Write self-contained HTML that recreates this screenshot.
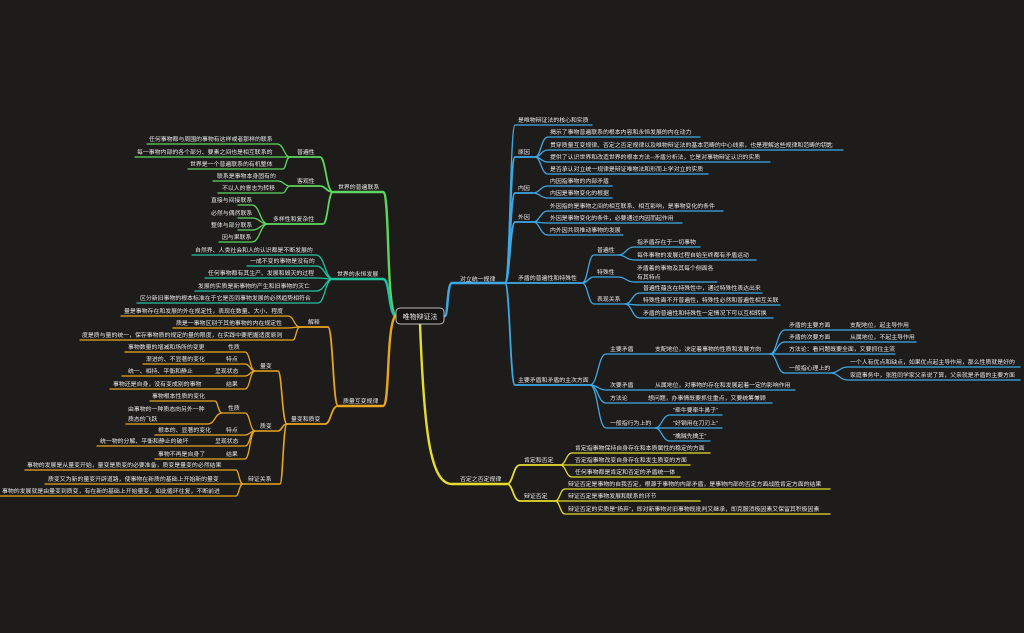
<!DOCTYPE html>
<html><head><meta charset="utf-8">
<style>
html,body{margin:0;padding:0;background:#1e1c1b;}
svg{display:block;}
text{font-family:"Liberation Sans","Noto Sans CJK SC",sans-serif;font-size:5.9px;fill:#e6e6e6;}
path{fill:none;stroke-linecap:round;}
</style></head><body>
<svg width="1024" height="633" viewBox="0 0 1024 633" xmlns="http://www.w3.org/2000/svg">
<rect width="1024" height="633" fill="#1e1c1b"/>

<!-- BLUE -->
<g stroke="#3ea8e6" stroke-width="1.3">
<path stroke-width="2.4" d="M445 316 C448 316 447 283 452 283 H505"/>
<path d="M505 283 C510 283 510 125 515 125 H592"/>
<path stroke-width="1.8" d="M505 283 C510 283 510 157 515 157 H535"/>
<path d="M535 157 C541 157 541 137 548 137 H700"/>
<path d="M535 157 C541 157 541 150 548 150 H843"/>
<path d="M535 157 C541 157 541 162 548 162 H770"/>
<path d="M535 157 C541 157 541 174 548 174 H708"/>
<path stroke-width="1.8" d="M505 283 C510 283 510 193 515 193 H533"/>
<path d="M533 193 C540 193 540 186 548 186 H612"/>
<path d="M533 193 C540 193 540 198 548 198 H612"/>
<path stroke-width="1.8" d="M505 283 C510 283 510 222 515 222 H533"/>
<path d="M533 222 C540 222 540 211 548 211 H723"/>
<path d="M533 222 C540 222 540 223 548 223 H682"/>
<path d="M533 222 C540 222 540 235 548 235 H623"/>
<path stroke-width="1.8" d="M505 283 H582"/>
<path d="M582 283 C588 283 588 255 594 255 H618"/>
<path d="M618 255 C626 255 626 247 634 247 H700"/>
<path d="M618 255 C626 255 626 260 634 260 H756"/>
<path d="M582 283 C588 283 588 277 594 277 H618"/>
<path d="M618 277 C626 277 626 282 634 282 H717"/>
<path d="M582 283 C588 283 588 304 594 304 H625"/>
<path d="M625 304 C632 304 632 293 640 293 H762"/>
<path d="M625 304 C632 304 632 305 640 305 H780"/>
<path d="M625 304 C632 304 632 318 640 318 H773"/>
<path stroke-width="1.8" d="M505 283 C510 283 510 385 515 385 H590"/>
<path d="M590 385 C598 385 598 354 606 354 H770"/>
<path d="M770 354 C777 354 777 330 785 330 H910"/>
<path d="M770 354 C777 354 777 342 785 342 H916"/>
<path d="M770 354 H895"/>
<path d="M770 354 C777 354 777 373 785 373 H830"/>
<path d="M830 373 C839 373 839 367 848 367 H1020"/>
<path d="M830 373 C839 373 839 380 848 380 H1020"/>
<path d="M590 385 C598 385 598 390 606 390 H795"/>
<path d="M590 385 C598 385 598 403 606 403 H772"/>
<path d="M590 385 C598 385 598 428 606 428 H655"/>
<path d="M655 428 C662 428 662 415 670 415 H722"/>
<path d="M655 428 H722"/>
<path d="M655 428 C662 428 662 441 670 441 H710"/>
</g>
<g>
<text x="460" y="281">对立统一规律</text>
<text x="518" y="122">是唯物辩证法的核心和实质</text>
<text x="518" y="154">原因</text>
<text x="550" y="134">揭示了事物普遍联系的根本内容和永恒发展的内在动力</text>
<text x="550" y="147">贯穿质量互变规律、否定之否定规律以及唯物辩证法的基本范畴的中心线索，也是理解这些规律和范畴的钥匙</text>
<text x="550" y="159">提供了认识世界和改造世界的根本方法--矛盾分析法，它是对事物辩证认识的实质</text>
<text x="550" y="171">是否承认对立统一规律是辩证唯物法和形而上学对立的实质</text>
<text x="518" y="190">内因</text>
<text x="550" y="183">内因指事物的内部矛盾</text>
<text x="550" y="195">内因是事物变化的根据</text>
<text x="518" y="219">外因</text>
<text x="550" y="208">外因指的是事物之间的相互联系、相互影响，是事物变化的条件</text>
<text x="550" y="220">外因是事物变化的条件，必要通过内因而起作用</text>
<text x="550" y="232">内外因共同推动事物的发展</text>
<text x="518" y="280">矛盾的普遍性和特殊性</text>
<text x="597" y="252">普遍性</text>
<text x="637" y="244">指矛盾存在于一切事物</text>
<text x="637" y="257">每件事物的发展过程自始至终都有矛盾运动</text>
<text x="597" y="274">特殊性</text>
<text x="637" y="270">矛盾着的事物及其每个侧面各</text>
<text x="637" y="279">有其特点</text>
<text x="597" y="301">表现关系</text>
<text x="643" y="290">普遍性蕴含在特殊性中，通过特殊性表达出来</text>
<text x="643" y="302">特殊性离不开普遍性，特殊性必然和普遍性相互关联</text>
<text x="643" y="315">矛盾的普遍性和特殊性一定情况下可以互相转换</text>
<text x="518" y="382">主要矛盾和矛盾的主次方面</text>
<text x="610" y="351">主要矛盾</text>
<text x="655" y="351">支配地位，决定着事物的性质和发展方向</text>
<text x="789" y="327">矛盾的主要方面</text>
<text x="850" y="327">支配地位，起主导作用</text>
<text x="789" y="339">矛盾的次要方面</text>
<text x="850" y="339">从属地位，不起主导作用</text>
<text x="789" y="351">方法论：看问题既要全面，又要抓住主流</text>
<text x="789" y="370">一般指心理上的</text>
<text x="850" y="364">一个人有优点和缺点，如果优点起主导作用，那么性质就是好的</text>
<text x="850" y="377">家庭事务中，张胜同学家父亲说了算，父亲就是矛盾的主要方面</text>
<text x="610" y="387">次要矛盾</text>
<text x="655" y="387">从属地位，对事物的存在和发展起着一定的影响作用</text>
<text x="610" y="400">方法论</text>
<text x="648" y="400">想问题，办事情既要抓住重点，又要统筹兼顾</text>
<text x="610" y="425">一般指行为上的</text>
<text x="673" y="412">“牵牛要牵牛鼻子”</text>
<text x="673" y="425">“好钢用在刀刃上”</text>
<text x="673" y="438">“擒贼先擒王”</text>
</g>

<!-- YELLOW -->
<g stroke="#e6dc2e" stroke-width="1.3">
<path stroke-width="2.4" d="M420 324 C424 430 430 484 452 484 H507"/>
<path stroke-width="1.8" d="M507 484 C513 484 513 465 520 465 H560"/>
<path d="M560 465 C566 465 566 453 572 453 H710"/>
<path d="M560 465 H690"/>
<path d="M560 465 C566 465 566 477 572 477 H680"/>
<path stroke-width="1.8" d="M507 484 C513 484 513 501 520 501 H555"/>
<path d="M555 501 C560 501 560 489 565 489 H830"/>
<path d="M555 501 H700"/>
<path d="M555 501 C560 501 560 514 565 514 H830"/>
</g>
<g>
<text x="460" y="481">否定之否定规律</text>
<text x="524" y="462">肯定和否定</text>
<text x="575" y="450">肯定指事物保持自身存在和本质属性的稳定的方面</text>
<text x="575" y="462">否定指事物改变自身存在和发生质变的方面</text>
<text x="575" y="474">任何事物都是肯定和否定的矛盾统一体</text>
<text x="524" y="498">辩证否定</text>
<text x="568" y="486">辩证否定是事物的自我否定，根源于事物的内部矛盾，是事物内部的否定方面战胜肯定方面的结果</text>
<text x="568" y="498">辩证否定是事物发展和联系的环节</text>
<text x="568" y="511">辩证否定的实质是“扬弃”，即对新事物对旧事物既批判又继承，即克服消极因素又保留其积极因素</text>
</g>

<!-- GREEN -->
<g stroke="#5cd65c" stroke-width="1.3">
<path stroke-width="2.4" d="M395 316 C386 300 390 192 383 192 H333"/>
<path stroke-width="1.8" d="M333 192 C326 192 326 157 320 157 H290"/>
<path d="M290 157 C284 157 284 144 277 144 H147"/>
<path d="M290 157 H135"/>
<path d="M290 157 C286 157 286 169 283 169 H188"/>
<path stroke-width="1.8" d="M333 192 C326 192 326 186 320 186 H290"/>
<path d="M290 186 C284 186 284 181 278 181 H213"/>
<path d="M290 186 C286 186 286 193 283 193 H218"/>
<path stroke-width="1.8" d="M333 192 C328 192 328 224 323 224 H268"/>
<path d="M268 224 C260 224 260 205 252 205 H238"/>
<path d="M268 224 C260 224 260 218 252 218 H238"/>
<path d="M268 224 C260 224 260 230 252 230 H238"/>
<path d="M268 224 C260 224 260 242 252 242 H219"/>
</g>
<g>
<text x="338" y="189">世界的普遍联系</text>
<text x="297" y="154">普遍性</text>
<text x="149" y="141">任何事物都与周围的事物有这样或者那样的联系</text>
<text x="137" y="154">每一事物内部的各个部分、要素之间也是相互联系的</text>
<text x="190" y="166">世界是一个普遍联系的有机整体</text>
<text x="297" y="183">客观性</text>
<text x="217" y="178">联系是事物本身固有的</text>
<text x="222" y="190">不以人的意志为转移</text>
<text x="273" y="221">多样性和复杂性</text>
<text x="211" y="202">直接与间接联系</text>
<text x="211" y="215">必然与偶然联系</text>
<text x="211" y="227">整体与部分联系</text>
<text x="222" y="239">因与果联系</text>
</g>

<!-- TEAL -->
<g stroke="#22c2a0" stroke-width="1.3">
<path stroke-width="2.4" d="M395 316 C388 310 390 279 383 279 H333"/>
<path d="M333 279 C325 279 325 255 316 255 H192"/>
<path d="M333 279 C325 279 325 266 316 266 H247"/>
<path d="M333 279 C325 279 325 278 316 278 H205"/>
<path d="M333 279 C325 279 325 291 316 291 H195"/>
<path d="M333 279 C325 279 325 303 318 303 H137"/>
</g>
<g>
<text x="337" y="276">世界的永恒发展</text>
<text x="195" y="252">自然界、人类社会和人的认识都是不断发展的</text>
<text x="250" y="263">一成不变的事物是没有的</text>
<text x="208" y="275">任何事物都有其生产、发展和毁灭的过程</text>
<text x="198" y="288">发展的实质是新事物的产生和旧事物的灭亡</text>
<text x="140" y="300">区分新旧事物的根本标准在于它是否同事物发展的必然趋势相符合</text>
</g>

<!-- ORANGE -->
<g stroke="#e8a520" stroke-width="1.3">
<path stroke-width="2.4" d="M395 316 C386 330 390 406 383 406 H338"/>
<path stroke-width="1.8" d="M338 406 C333 406 333 327 328 327 H300"/>
<path d="M300 327 C294 327 294 316 288 316 H121"/>
<path d="M300 327 C294 327 294 328 287 328 H173"/>
<path d="M300 327 C296 327 296 340 293 340 H80"/>
<path stroke-width="1.8" d="M338 406 C331 406 331 424 325 424 H287"/>
<path stroke-width="1.6" d="M287 424 C282 424 282 371 278 371 H255"/>
<path d="M255 371 C250 371 250 352 245 352 H125"/>
<path d="M255 371 C250 371 250 364 245 364 H143"/>
<path d="M255 371 C250 371 250 376 245 376 H122"/>
<path d="M255 371 C250 371 250 389 245 389 H110"/>
<path stroke-width="1.6" d="M287 424 C282 424 282 431 278 431 H255"/>
<path d="M255 431 C250 431 250 413 245 413 H222"/>
<path d="M222 413 C218 413 218 401 215 401 H150"/>
<path d="M222 413 C215 413 215 424 208 424 H126"/>
<path d="M255 431 C250 431 250 435 245 435 H155"/>
<path d="M255 431 C250 431 250 446 245 446 H97"/>
<path d="M255 431 C250 431 250 459 245 459 H155"/>
<path stroke-width="1.6" d="M287 424 C283 424 283 484 280 484 H243"/>
<path d="M243 484 C239 484 239 470 236 470 H25"/>
<path d="M243 484 H45"/>
<path d="M243 484 C239 484 239 496 236 496 H0"/>
</g>
<g>
<text x="343" y="403">质量互变规律</text>
<text x="308" y="324">解释</text>
<text x="124" y="313">量是事物存在和发展的外在规定性，表现在数量、大小、程度</text>
<text x="176" y="325">质是一事物区别于其他事物的内在规定性</text>
<text x="82" y="337">度是质与量的统一，保存事物质的规定的量的限度，在实践中要把握适度原则</text>
<text x="291" y="421">量变和质变</text>
<text x="260" y="368">量变</text>
<text x="228" y="349">性质</text>
<text x="128" y="349">事物数量的增减和场所的变更</text>
<text x="226" y="361">特点</text>
<text x="146" y="361">渐进的、不显著的变化</text>
<text x="215" y="373">呈现状态</text>
<text x="128" y="373">统一、相持、平衡和静止</text>
<text x="226" y="386">结果</text>
<text x="113" y="386">事物还是自身，没有变成别的事物</text>
<text x="260" y="428">质变</text>
<text x="228" y="410">性质</text>
<text x="152" y="398">事物根本性质的变化</text>
<text x="128" y="411">由事物的一种质态向另外一种</text>
<text x="128" y="421">质态的飞跃</text>
<text x="226" y="432">特点</text>
<text x="158" y="432">根本的、显著的变化</text>
<text x="215" y="443">呈现状态</text>
<text x="100" y="443">统一物的分解、平衡和静止的破坏</text>
<text x="226" y="456">结果</text>
<text x="158" y="456">事物不再是自身了</text>
<text x="248" y="481">辩证关系</text>
<text x="27" y="467">事物的发展是从量变开始，量变是质变的必要准备，质变是量变的必然结果</text>
<text x="48" y="481">质变又为新的量变开辟道路，使事物在新质的基础上开始新的量变</text>
<text x="2" y="493">事物的发展就是由量变到质变，有在新的基础上开始量变，如此循环往复，不断前进</text>
</g>

<!-- CENTER -->
<rect x="396" y="308" width="48" height="16" rx="4" fill="#151413" stroke="#bdbdbd" stroke-width="1"/>
<text x="420" y="319" text-anchor="middle" style="font-size:7px">唯物辩证法</text>
</svg>
</body></html>
